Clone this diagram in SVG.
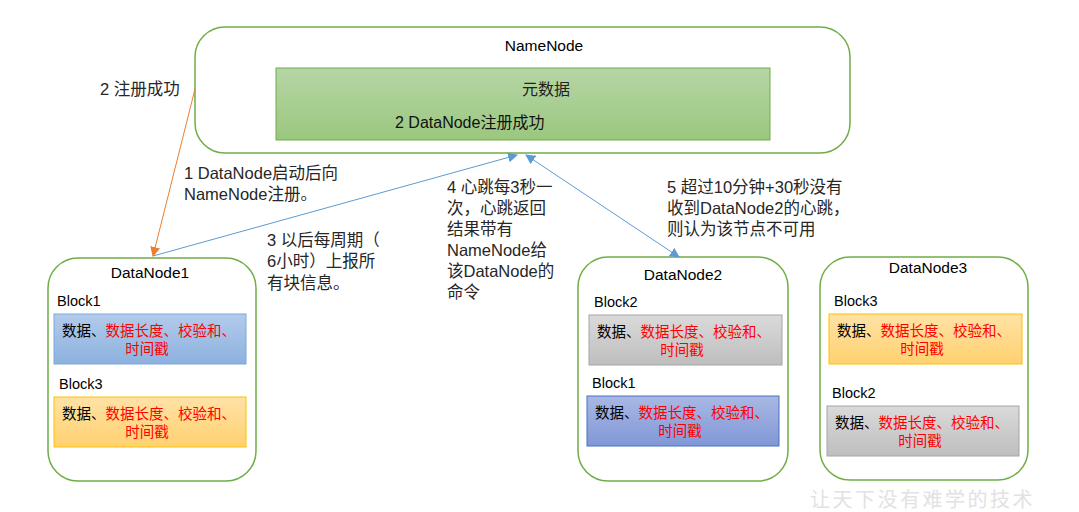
<svg xmlns="http://www.w3.org/2000/svg" width="1079" height="512" viewBox="0 0 1079 512">
<style>
text{font-family:"Liberation Sans","Noto Sans CJK SC",sans-serif;}
.node{fill:#fff;stroke:#70AD47;stroke-width:1.5;}
.lbl{font-size:15.5px;fill:#000;}
.ann{font-size:16.5px;fill:#262626;}
.blk{font-size:14.5px;fill:#000;}
.red{fill:#FF0000;}
.b1{fill:url(#gBlue);stroke:#7FA7D9;}
.b1d{fill:url(#gBlue2);stroke:#4472C4;}
.or{fill:url(#gOr);stroke:#FFC000;}
.gr{fill:url(#gGr);stroke:#A5A5A5;}
</style>
<defs>
<linearGradient id="gGreen" x1="0" y1="0" x2="0" y2="1"><stop offset="0" stop-color="#B6D6A6"/><stop offset="1" stop-color="#9BC77F"/></linearGradient>
<linearGradient id="gBlue" x1="0" y1="0" x2="0" y2="1"><stop offset="0" stop-color="#B2CBEB"/><stop offset="1" stop-color="#8DB1DF"/></linearGradient>
<linearGradient id="gBlue2" x1="0" y1="0" x2="0" y2="1"><stop offset="0" stop-color="#A9B8E4"/><stop offset="1" stop-color="#8197D6"/></linearGradient>
<linearGradient id="gOr" x1="0" y1="0" x2="0" y2="1"><stop offset="0" stop-color="#FFE2A6"/><stop offset="1" stop-color="#FFD170"/></linearGradient>
<linearGradient id="gGr" x1="0" y1="0" x2="0" y2="1"><stop offset="0" stop-color="#DADADA"/><stop offset="1" stop-color="#BEBEBE"/></linearGradient>
<marker id="aO" viewBox="0 0 10 10" refX="9" refY="5" markerWidth="10" markerHeight="10" orient="auto-start-reverse" markerUnits="userSpaceOnUse"><path d="M0,0 L10,5 L0,10 z" fill="#ED7D31"/></marker>
<marker id="aB" viewBox="0 0 10 10" refX="9" refY="5" markerWidth="10" markerHeight="10" orient="auto-start-reverse" markerUnits="userSpaceOnUse"><path d="M0,0 L10,5 L0,10 z" fill="#5B9BD5"/></marker>
</defs>

<g id="namenode">
<rect class="node" x="195" y="27" width="655" height="126" rx="30"/>
<text class="lbl" x="544" y="51" text-anchor="middle">NameNode</text>
<rect x="276" y="68" width="494" height="72" fill="url(#gGreen)" stroke="#70AD47"/>
<text x="546" y="95" text-anchor="middle" style="font-size:16px" fill="#222">元数据</text>
<text x="395" y="128" style="font-size:16px" fill="#111">2 DataNode注册成功</text>
</g>

<g id="datanode1">
<rect class="node" x="48" y="258" width="208" height="223" rx="30"/>
<text class="lbl" x="150" y="278" text-anchor="middle">DataNode1</text>
<text class="blk" x="57" y="306">Block1</text>
<rect class="b1" x="54" y="314" width="192" height="50"/>
<text class="blk" x="62" y="336">数据、<tspan class="red">数据长度、校验和、</tspan></text>
<text class="blk red" x="147" y="354" text-anchor="middle">时间戳</text>
<text class="blk" x="59" y="389">Block3</text>
<rect class="or" x="54" y="397" width="192" height="50"/>
<text class="blk" x="62" y="419">数据、<tspan class="red">数据长度、校验和、</tspan></text>
<text class="blk red" x="147" y="437" text-anchor="middle">时间戳</text>
</g>

<g id="datanode2">
<rect class="node" x="578" y="257" width="210" height="224" rx="30"/>
<text class="lbl" x="683" y="280" text-anchor="middle">DataNode2</text>
<text class="blk" x="594" y="307">Block2</text>
<rect class="gr" x="589" y="315" width="193" height="50"/>
<text class="blk" x="597" y="337">数据、<tspan class="red">数据长度、校验和、</tspan></text>
<text class="blk red" x="682" y="355" text-anchor="middle">时间戳</text>
<text class="blk" x="592" y="388">Block1</text>
<rect class="b1d" x="587" y="396" width="192" height="50"/>
<text class="blk" x="595" y="418">数据、<tspan class="red">数据长度、校验和、</tspan></text>
<text class="blk red" x="680" y="436" text-anchor="middle">时间戳</text>
</g>

<g id="datanode3">
<rect class="node" x="820" y="257" width="208" height="223" rx="30"/>
<text class="lbl" x="928" y="273" text-anchor="middle">DataNode3</text>
<text class="blk" x="834" y="306">Block3</text>
<rect class="or" x="829" y="314" width="193" height="50"/>
<text class="blk" x="837" y="336">数据、<tspan class="red">数据长度、校验和、</tspan></text>
<text class="blk red" x="922" y="354" text-anchor="middle">时间戳</text>
<text class="blk" x="832" y="398">Block2</text>
<rect class="gr" x="827" y="406" width="192" height="50"/>
<text class="blk" x="835" y="428">数据、<tspan class="red">数据长度、校验和、</tspan></text>
<text class="blk red" x="920" y="446" text-anchor="middle">时间戳</text>
</g>

<g id="connectors" fill="none">
<line x1="195" y1="89" x2="153" y2="256" stroke="#ED7D31" stroke-width="1" marker-end="url(#aO)"/>
<line x1="153" y1="256" x2="517" y2="155" stroke="#5B9BD5" stroke-width="1" marker-end="url(#aB)"/>
<line x1="526" y1="155" x2="679" y2="257" stroke="#5B9BD5" stroke-width="1" marker-start="url(#aB)" marker-end="url(#aB)"/>
</g>

<g id="annotations">
<text class="ann" x="100" y="95">2 注册成功</text>
<text class="ann" x="184" y="179">1 DataNode启动后向</text>
<text class="ann" x="184" y="200">NameNode注册。</text>
<text class="ann" x="267" y="246">3 以后每周期（</text>
<text class="ann" x="267" y="267">6小时）上报所</text>
<text class="ann" x="267" y="289">有块信息。</text>
<text class="ann" x="447" y="193">4 心跳每3秒一</text>
<text class="ann" x="447" y="214">次，心跳返回</text>
<text class="ann" x="447" y="235">结果带有</text>
<text class="ann" x="447" y="256">NameNode给</text>
<text class="ann" x="447" y="277">该DataNode的</text>
<text class="ann" x="447" y="298">命令</text>
<text class="ann" x="667" y="193">5 超过10分钟+30秒没有</text>
<text class="ann" x="667" y="214">收到DataNode2的心跳，</text>
<text class="ann" x="667" y="235">则认为该节点不可用</text>
</g>

<text x="810" y="507" style="font-size:20px;letter-spacing:2.5px" fill="#E2E2E2">让天下没有难学的技术</text>
</svg>
